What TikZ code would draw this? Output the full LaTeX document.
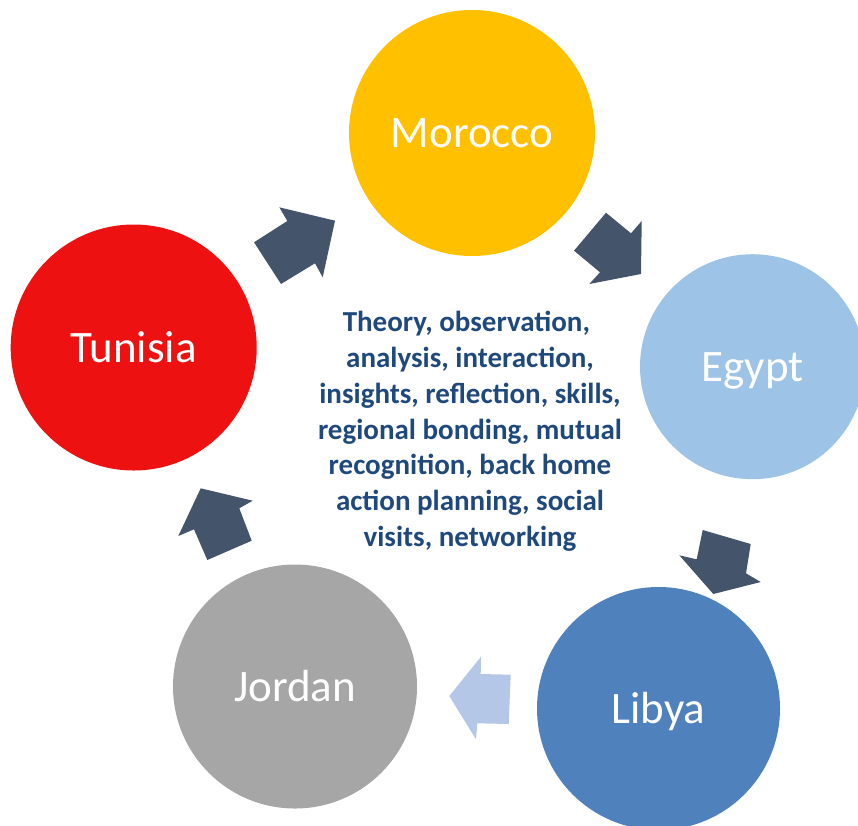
\documentclass[tikz,border=0pt]{standalone}
\usepackage{fontspec}
\setmainfont{Carlito}
\definecolor{morocco}{HTML}{FFC000}
\definecolor{egypt}{HTML}{9DC3E6}
\definecolor{libya}{HTML}{4F81BD}
\definecolor{jordan}{HTML}{A6A6A6}
\definecolor{tunisia}{HTML}{EE1111}
\definecolor{arrowdark}{HTML}{44546A}
\definecolor{arrowlight}{HTML}{B4C7E7}
\definecolor{textblue}{HTML}{1F497D}
\begin{document}
\begin{tikzpicture}[x=1pt,y=-1pt,
  country/.style={circle, draw=none, inner sep=0pt, text=white,
    font=\fontsize{45}{52}\selectfont, text height=29pt, text depth=0pt},
  darkarrow/.style={fill=arrowdark, draw=none},
  lightarrow/.style={fill=arrowlight, draw=none},
  centertext/.style={align=center, text=textblue,
    font=\bfseries\fontsize{29}{35.8}\selectfont, inner sep=0pt}]
\useasboundingbox (0,0) rectangle (858,825);
\clip (0,0) rectangle (858,825);

\node[country, fill=morocco, minimum size=246pt] (morocco) at (472,133) {Morocco};
\node[country, fill=egypt,   minimum size=225pt] (egypt)   at (752.5,366.7) {Egypt};
\node[country, fill=libya,   minimum size=243pt] (libya)   at (658.5,708.5) {Libya};
\node[country, fill=jordan,  minimum size=244pt] (jordan)  at (295,686.5) {Jordan};
\node[country, fill=tunisia, minimum size=246pt] (tunisia) at (133.7,347.5) {Tunisia};

% Tunisia -> Morocco
\fill[darkarrow] (279.3,207.3) -- (335,220.7) -- (322.7,277.3) -- (315,263.3)
  -- (281,284) -- (254,242.3) -- (287.3,221) -- cycle;
% Morocco -> Egypt
\fill[darkarrow] (606,212.7) -- (631,233.3) -- (641.7,221) -- (641,274)
  -- (589.3,284) -- (600,272.3) -- (574,250.7) -- cycle;
% Egypt -> Libya
\fill[darkarrow] (702.7,530) -- (750.7,544) -- (746,573.3) -- (760.7,582)
  -- (713.3,594) -- (679.3,555.3) -- (696.7,559.3) -- cycle;
% Libya -> Jordan
\fill[lightarrow] (481,656.7) -- (480.7,674) -- (510.7,674.7) -- (508.7,724)
  -- (477.3,723.3) -- (476,739.3) -- (449.3,696) -- cycle;
% Jordan -> Tunisia
\fill[darkarrow] (200.7,488.3) -- (252.7,500.7) -- (239.3,508.3) -- (251.7,540.7)
  -- (207.3,560) -- (194,529.3) -- (178.3,536) -- cycle;

\node[centertext, anchor=base] (centre) at (470,546.5)
  {Theory, observation,\hspace*{0.25em}\\
   analysis, interaction,\hspace*{0.2em}\\
   insights, reflection, skills,\\
   regional bonding, mutual\\
   recognition, back home\\
   action planning, social\\
   visits, networking};
\end{tikzpicture}
\end{document}
